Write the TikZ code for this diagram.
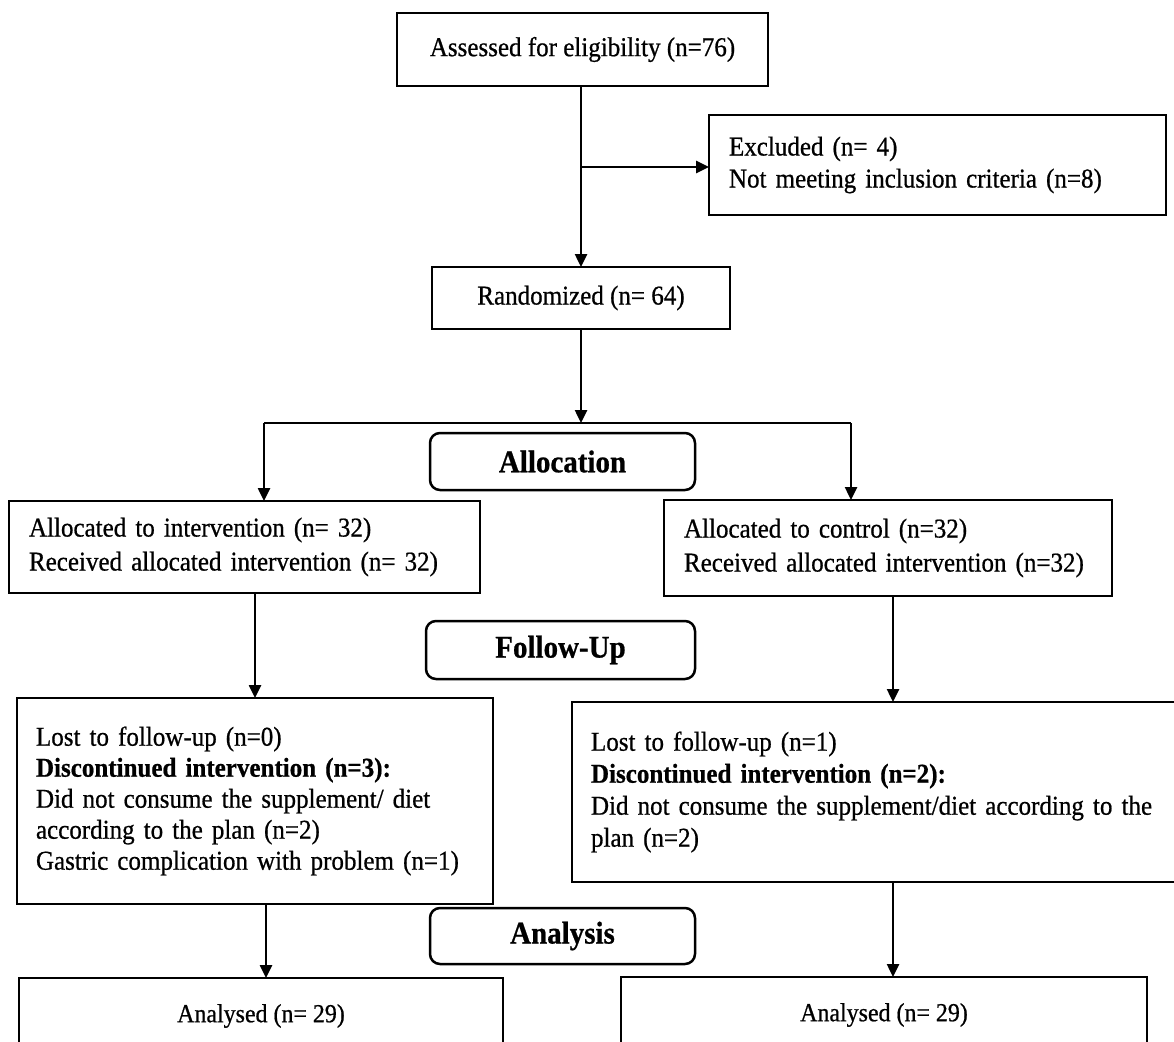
\documentclass[tikz,border=0pt]{standalone}
\usepackage{fontspec}
\setmainfont{Liberation Serif}[FakeStretch=0.92, FakeBold=0.7]
\usetikzlibrary{arrows.meta}
\tikzset{
  box/.style={draw, line width=2.5pt, inner sep=0pt, outer sep=0pt, anchor=north west},
  lbox/.style={box, align=left, inner xsep=20pt},
  cbox/.style={box, align=center},
  stagebox/.style={draw, line width=2.5pt, rounded corners=10pt, inner sep=0pt, outer sep=0pt,
    anchor=north west, font=\fontsize{31.5}{34}\selectfont\bfseries},
  conn/.style={line width=2.5pt},
  arr/.style={line width=2.5pt, -{Triangle[length=13pt,width=12pt]}},
  txt/.style={font=\fontsize{27.2}{34}\selectfont},
}
\begin{document}
\begin{tikzpicture}[x=1pt,y=-1pt]
\useasboundingbox (0,0) rectangle (1174,1041);
\clip (0,0) rectangle (1174,1041);

% boxes
\node[cbox, txt, minimum width=371pt, minimum height=73pt] (assess) at (397,13) {Assessed for eligibility (n=76)};
\node[lbox, font=\fontsize{27.2}{32}\selectfont, text width=417pt, minimum height=100pt] (excl) at (709,115)
  {Excluded (n= 4)\\Not meeting inclusion criteria (n=8)};
\node[cbox, txt, minimum width=298pt, minimum height=62pt] (rand) at (432,267) {Randomized (n= 64)};

\node[stagebox, minimum width=265pt, minimum height=57pt] (alloc) at (430,433) {Allocation};
\node[lbox, txt, text width=431pt, minimum height=92pt] (la) at (9,501)
  {Allocated to intervention (n= 32)\\Received allocated intervention (n= 32)};
\node[lbox, txt, text width=408pt, minimum height=96pt] (ra) at (664,500)
  {Allocated to control (n=32)\\Received allocated intervention (n=32)};

\node[stagebox, minimum width=269pt, minimum height=58pt] (follow) at (426,621) {Follow-Up};
\node[lbox, font=\fontsize{27.2}{31}\selectfont, inner xsep=19pt, text width=438pt, minimum height=206pt] (llost) at (17,698)
  {Lost to follow-up (n=0)\\\textbf{Discontinued intervention (n=3):}\\Did not consume the supplement/ diet\\according to the plan (n=2)\\Gastric complication with problem (n=1)};
\node[lbox, font=\fontsize{27.2}{32}\selectfont, inner xsep=19pt, text width=604pt, minimum height=180pt] (rlost) at (572,702)
  {Lost to follow-up (n=1)\\\textbf{Discontinued intervention (n=2):}\\Did not consume the supplement/diet according to the\\plan (n=2)};

\node[stagebox, minimum width=265pt, minimum height=56pt] (analysis) at (430,908) {Analysis};
\node[cbox, font=\fontsize{26}{30}\selectfont, minimum width=484pt, minimum height=76pt] (an1) at (19,978) {Analysed (n= 29)};
\node[cbox, font=\fontsize{26}{30}\selectfont, minimum width=526pt, minimum height=76pt] (an2) at (621,977) {Analysed (n= 29)};

% connectors
\coordinate (br) at (581,167);
\coordinate (split) at (581,423);
\coordinate (lc) at (264,423);
\coordinate (rc) at (851,423);
\coordinate (xl) at (266,0);

\draw[arr] (assess.south -| rand) -- (rand.north);
\draw[arr] (br) -- (br -| excl.west);
\draw[arr] (rand.south) -- (split);
\draw[conn] (lc) -- (rc);
\draw[arr] (lc) -- (lc |- la.north);
\draw[arr] (rc) -- (rc |- ra.north);
\draw[arr] (llost.north |- la.south) -- (llost.north);
\draw[arr] (rlost.north |- ra.south) -- (rlost.north);
\draw[arr] (llost.south -| xl) -- (an1.north -| xl);
\draw[arr] (rlost.south) -- (rlost.south |- an2.north);
\end{tikzpicture}
\end{document}
